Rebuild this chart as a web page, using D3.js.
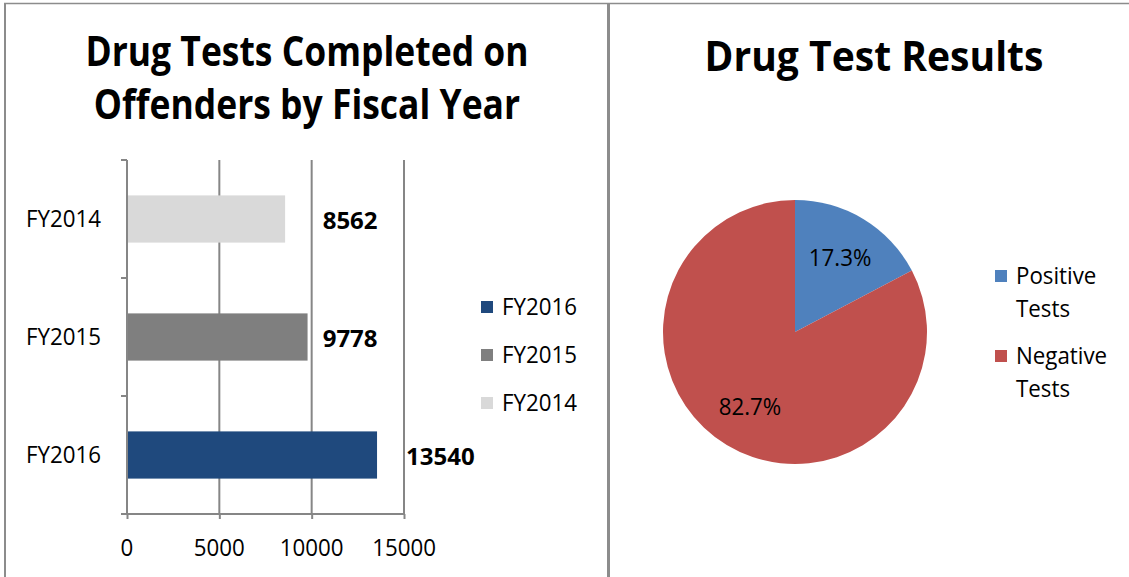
<!DOCTYPE html>
<html>
<head>
<meta charset="utf-8">
<script src="https://cdn.jsdelivr.net/npm/d3@7"></script>
<style>
  html, body { margin: 0; padding: 0; background: #ffffff; }
  svg { display: block; font-family: "Open Sans", "Noto Sans", sans-serif; }
</style>
</head>
<body>
<svg id="chart" width="1129" height="577"></svg>
<script>
// Drug tests completed per fiscal year
const years = ["FY2014", "FY2015", "FY2016"];
const testCounts = [8562, 9778, 13540];
const yearColors = ["#d9d9d9", "#7f7f7f", "#1f497d"];
const countTicks = [0, 5000, 10000, 15000];

// Share of positive vs negative results (percent)
const resultLabels = ["Positive Tests", "Negative Tests"];
const resultShares = [17.3, 82.7];
const resultColors = ["#4f81bd", "#c0504d"];

const W = 1129, H = 577;
const svg = d3.select("#chart");
const GRID = "#868686";
const FRAME = "#8c8c8c";

// text helper: horizontally condensed text anchored at (x, y)
function label(parent, x, y, str, opts) {
  const o = Object.assign({ size: 24, weight: "normal", anchor: "start", sx: 0.93, dy: "0.35em" }, opts || {});
  const g = parent.append("g").attr("transform", `translate(${x},${y}) scale(${o.sx},1)`);
  g.append("text")
    .attr("text-anchor", o.anchor)
    .attr("dy", o.dy)
    .attr("font-size", o.size)
    .attr("font-weight", o.weight)
    .attr("fill", "#000")
    .text(str);
  return g;
}

// panel frame
svg.append("rect").attr("width", W).attr("height", H).attr("fill", "#fff");
svg.append("line").attr("x1", 4).attr("x2", W).attr("y1", 3.5).attr("y2", 3.5)
  .attr("stroke", FRAME).attr("stroke-width", 1.5);
svg.append("line").attr("x1", 5).attr("x2", 5).attr("y1", 3).attr("y2", H)
  .attr("stroke", FRAME).attr("stroke-width", 2);
svg.append("line").attr("x1", 608.5).attr("x2", 608.5).attr("y1", 3).attr("y2", H)
  .attr("stroke", FRAME).attr("stroke-width", 3);

// ---------- left panel: horizontal bars ----------
const left = svg.append("g");
label(left, 307, 52, "Drug Tests Completed on", { size: 41, weight: "bold", anchor: "middle", sx: 0.865 });
label(left, 307, 105, "Offenders by Fiscal Year", { size: 41, weight: "bold", anchor: "middle", sx: 0.865 });

const x = d3.scaleLinear().domain([0, 15000]).range([127, 404]);
const y = d3.scaleBand().domain(years).range([160, 514]).paddingInner(0.6).paddingOuter(0.3);

// vertical gridlines
left.append("g").selectAll("line")
  .data(countTicks.filter(t => t > 0))
  .join("line")
  .attr("x1", d => x(d)).attr("x2", d => x(d))
  .attr("y1", y.range()[0]).attr("y2", y.range()[1])
  .attr("stroke", GRID).attr("stroke-width", 2);

// bars
const bars = years.map((yr, i) => ({ year: yr, value: testCounts[i], color: yearColors[i] }));
left.append("g").selectAll("rect")
  .data(bars)
  .join("rect")
  .attr("x", x(0))
  .attr("y", d => y(d.year))
  .attr("width", d => x(d.value) - x(0))
  .attr("height", y.bandwidth())
  .attr("fill", d => d.color);

// category axis with tick marks between bands
const yTop = y.range()[0], yBot = y.range()[1];
left.append("line").attr("x1", x(0)).attr("x2", x(0)).attr("y1", yTop).attr("y2", yBot)
  .attr("stroke", GRID).attr("stroke-width", 2);
left.append("g").selectAll("line")
  .data(d3.range(years.length + 1))
  .join("line")
  .attr("x1", x(0) - 6).attr("x2", x(0))
  .attr("y1", i => yTop + i * y.step()).attr("y2", i => yTop + i * y.step())
  .attr("stroke", GRID).attr("stroke-width", 2);
years.forEach(yr => label(left, 101, y(yr) + y.bandwidth() / 2, yr, { anchor: "end" }));

// value axis
const xAxis = d3.axisBottom(x).tickValues(countTicks).tickSize(5).tickFormat("");
const xg = left.append("g").attr("transform", `translate(0,${yBot})`).call(xAxis);
xg.select(".domain").attr("d", `M${x(0) - 6},0H${x(15000)}`).attr("stroke", GRID).attr("stroke-width", 2);
xg.selectAll(".tick line").attr("stroke", GRID).attr("stroke-width", 2);
countTicks.forEach(t => label(left, x(t), yBot + 34, String(t), { anchor: "middle" }));

// value labels
bars.forEach(d => {
  const lx = d.value < 10000 ? x(10000) + 11 : x(d.value) + 29;
  label(left, lx, y(d.year) + y.bandwidth() / 2 + 2, String(d.value), { weight: "bold", sx: 1 });
});

// legend (latest year first)
bars.slice().reverse().forEach((d, i) => {
  const cy = 307 + i * 48;
  left.append("rect").attr("x", 481).attr("y", cy - 6).attr("width", 12).attr("height", 12).attr("fill", d.color);
  label(left, 502, cy, d.year);
});

// ---------- right panel: pie ----------
const right = svg.append("g");
label(right, 874, 56, "Drug Test Results", { size: 42, weight: "bold", anchor: "middle", sx: 0.93 });

const cx = 795, cy = 332, R = 132;
const slices = resultLabels.map((l, i) => ({ label: l, value: resultShares[i], color: resultColors[i] }));
const pie = d3.pie().value(d => d.value).sort(null);
const arc = d3.arc().innerRadius(0).outerRadius(R);
const labelArc = d3.arc().innerRadius(R * 0.66).outerRadius(R * 0.66);
const pg = right.append("g").attr("transform", `translate(${cx},${cy})`);
const arcs = pie(slices);
pg.selectAll("path").data(arcs).join("path")
  .attr("d", arc).attr("fill", d => d.data.color);
arcs.forEach(a => {
  const [px, py] = labelArc.centroid(a);
  label(pg, px, py, d3.format(".1f")(a.data.value) + "%", { anchor: "middle" });
});

// pie legend with two-line entries
slices.forEach((d, i) => {
  const ly = 276 + i * 80;
  right.append("rect").attr("x", 995).attr("y", ly - 6).attr("width", 12).attr("height", 12).attr("fill", d.color);
  d.label.split(" ").forEach((w, j) => label(right, 1016, ly + j * 33, w));
});
</script>
</body>
</html>
